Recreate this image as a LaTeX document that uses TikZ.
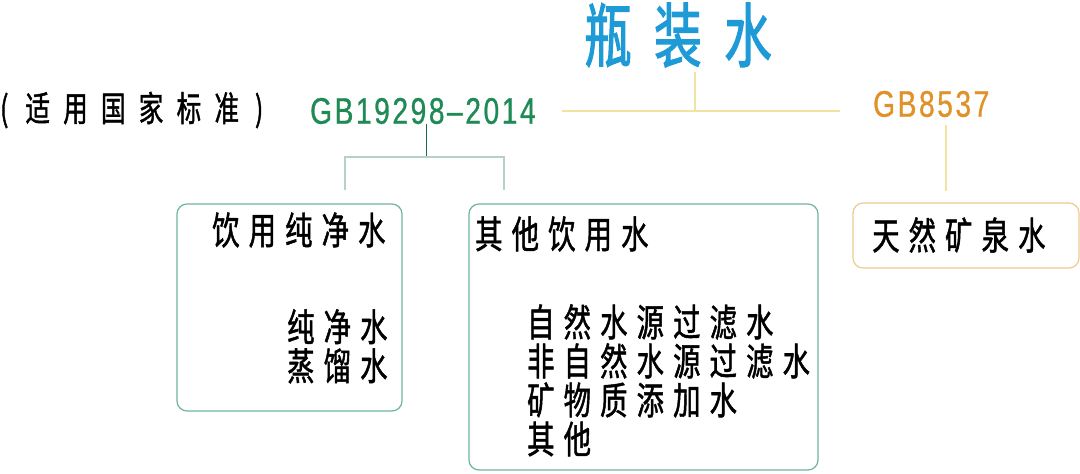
\documentclass[tikz,border=0pt]{standalone}
\usepackage{fontspec}
\newfontfamily\cjk[FakeStretch=0.72,LetterSpace=24,FakeBold=1.2]{Noto Sans CJK SC}
\newfontfamily\stdfont[FakeStretch=0.7,LetterSpace=38,FakeBold=1.2]{Noto Sans CJK SC}
\newfontfamily\titlefont[FakeStretch=0.68,LetterSpace=32,FakeBold=1.6]{Noto Sans CJK SC}
\newfontfamily\gbfont[FakeStretch=0.76,LetterSpace=7,FakeBold=0.8]{Liberation Sans}
\definecolor{bottleblue}{HTML}{1E9BD7}
\definecolor{gbgreen}{HTML}{1F8A55}
\definecolor{gborange}{HTML}{E0922A}
\definecolor{stemyellow}{HTML}{F2E3A0}
\definecolor{boxgreen}{HTML}{6DB59C}
\definecolor{forkgray}{HTML}{B5D2C8}
\definecolor{boxorange}{HTML}{EBCB92}

\begin{document}
\begin{tikzpicture}[
      x=1pt,y=-1pt,
      txt/.style={inner sep=0pt,anchor=west,font=\cjk\fontsize{38}{39}\selectfont},
      gb/.style={inner sep=0pt,anchor=west,font=\gbfont\fontsize{37}{40}\selectfont},
      listtxt/.style={txt,anchor=north west,align=left},
      box/.style={draw=boxgreen,line width=1.2pt,rounded corners=10pt,inner sep=0pt},
      yline/.style={draw=stemyellow,line width=1.6pt},
      fork/.style={draw=forkgray,line width=1.2pt}
      ]

      \useasboundingbox (0,0) rectangle (1080,474);

      \node[inner sep=0pt,anchor=west,text=bottleblue,font=\titlefont\fontsize{70}{72}\selectfont] (title) at (584,35) {瓶装水};
      \node[inner sep=0pt,anchor=west,font=\stdfont\fontsize{35}{36}\selectfont] (std) at (0,110) {(\hspace{17pt}适用国家标准\hspace{16pt})};
      \node[gb,text=gbgreen]  (gbpure) at (310,111) {GB19298\textendash2014};
      \node[gb,text=gborange] (gbmin)  at (873,104) {GB8537};

      \node[box,minimum width=225pt,minimum height=207pt] (pure)  at (289.5,307.5) {};
      \node[box,minimum width=349pt,minimum height=266pt] (other) at (643.5,337) {};
      \node[box,draw=boxorange,minimum width=226pt,minimum height=65pt] (mineral) at (966,235.5) {};

      \node[txt] (purehead)  at (212,230) {饮用纯净水};
      \node[listtxt] (purelist) at (287,309) {纯净水\\蒸馏水};
      \node[txt] (otherhead) at (475,234) {其他饮用水};
      \node[listtxt] (otherlist) at (527,304) {自然水源过滤水\\非自然水源过滤水\\矿物质添加水\\其他};
      \node[txt] (minhead)   at (872,235) {天然矿泉水};

      % top stem and bar
      \coordinate (stem) at (695,72);
      \coordinate (barmid) at (695,111);
      \coordinate (barl) at (562,111);
      \coordinate (barr) at (840,111);
      \draw[yline] (stem) -- (barmid);
      \draw[yline] (barl) -- (barr);

      % GB19298 fork
      \coordinate (forkmid) at (426,157);
      \coordinate (forkl) at (345,157);
      \coordinate (forkr) at (504,157);
      \draw[draw=gbgreen!80!black,line width=1pt] (forkmid |- gbpure.south) -- (forkmid);
      \draw[fork] (forkl |- 0,190) -- (forkl) -- (forkr) -- (forkr |- 0,190);

      % GB8537 stem
      \coordinate (minstem) at (946,125);
      \coordinate (minfoot) at (946,191);
      \draw[yline,line width=1.2pt] (minstem) -- (minfoot);
    \end{tikzpicture}
\end{document}
